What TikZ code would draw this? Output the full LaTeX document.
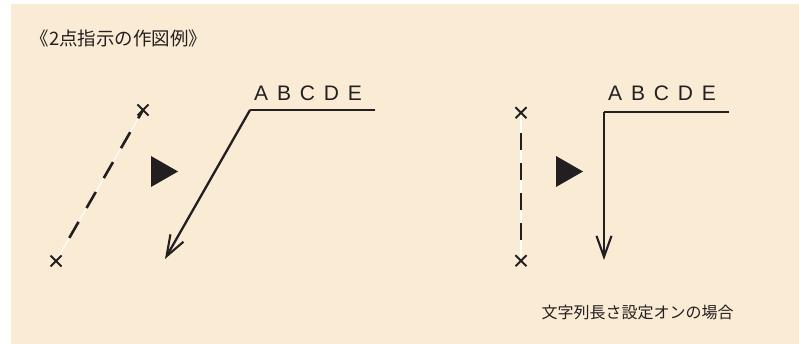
\documentclass[tikz,border=0pt]{standalone}
\usepackage{fontspec}
\setmainfont{Liberation Sans}
\newfontfamily\jpfont{Noto Sans CJK JP}
\usetikzlibrary{calc,arrows.meta}
\definecolor{bgcream}{RGB}{250,235,212}
\definecolor{inkc}{RGB}{35,31,32}
\def\gap{\hspace{0.42em}}
\tikzset{
	leader/.style={draw=inkc, line width=2.3pt, line join=miter},
	leaderarrow/.style={leader, -{Straight Barb[length=21pt,width=15pt,line width=2.1pt]}},
	whiteline/.style={draw=white, line width=1.1pt},
	dashL/.style={draw=inkc, line width=2.6pt, dash pattern=on 18.5pt off 16pt, dash phase=8.9pt},
	dashR/.style={draw=inkc, line width=2.6pt, dash pattern=on 17pt off 13pt},
	pointer/.style={fill=inkc},
	abc/.style={text=inkc, inner sep=0pt, anchor=base west, font=\fontsize{21}{24}\selectfont},
	jptext/.style={text=inkc, inner sep=0pt, font=\jpfont\fontsize{#1}{#1}\selectfont},
	crossmark/.pic={\draw[inkc, line width=1.9pt] (-5.5,-5.5) -- (5.5,5.5) (-5.5,5.5) -- (5.5,-5.5);}
}
\begin{document}
\begin{tikzpicture}[x=1pt, y=-1pt]
			%%%%% START %%%%%
			\useasboundingbox (0,0) rectangle (799,344);
			\fill[bgcream] (11,4) rectangle (799,344);
			
			\node[jptext=18.5] (title) at (119,38) {《2点指示の作図例》};
			
			% left: two points picked
			\coordinate (ptLa) at (143,110);
			\coordinate (ptLb) at (56,261);
			\draw[whiteline] (ptLa) -- (ptLb);
			\draw[dashL] (ptLa) -- ($(ptLb)!26pt!(ptLa)$);
			\pic at (ptLa) {crossmark};
			\pic at (ptLb) {crossmark};
			
			\fill[pointer] (151,156) -- (178,171.5) -- (151,187) -- cycle;
			
			\node[abc] (abcL) at (254,101) {A\gap B\gap C\gap D\gap E};
			\coordinate (endL) at (375,110);
			\coordinate (kneeL) at (250,110);
			\coordinate (tipL) at (165,259);
			\draw[leader] (endL) -- (kneeL);
			\draw[leaderarrow] (kneeL) -- (tipL);
			
			% right: string length setting on
			\coordinate (ptRa) at (521,112.7);
			\coordinate (ptRb) at (521,260.7);
			\draw[whiteline] (ptRa) -- (ptRb);
			\draw[dashR] ($(ptRa)!20pt!(ptRb)$) -- ($(ptRb)!20pt!(ptRa)$);
			\pic at (ptRa) {crossmark};
			\pic at (ptRb) {crossmark};
			
			\fill[pointer] (556,156) -- (583,171.5) -- (556,187) -- cycle;
			
			\node[abc] (abcR) at (608,101) {A\gap B\gap C\gap D\gap E};
			\coordinate (endR) at (729,112);
			\coordinate (kneeR) at (604,112);
			\coordinate (tipR) at (604,260);
			\draw[leader] (endR) -- (kneeR);
			\draw[leaderarrow] (kneeR) -- (tipR);
			
			\node[jptext=16] (caption) at (637.5,312) {文字列長さ設定オンの場合};
			%%%%% END %%%%%
\end{tikzpicture}
\end{document}
